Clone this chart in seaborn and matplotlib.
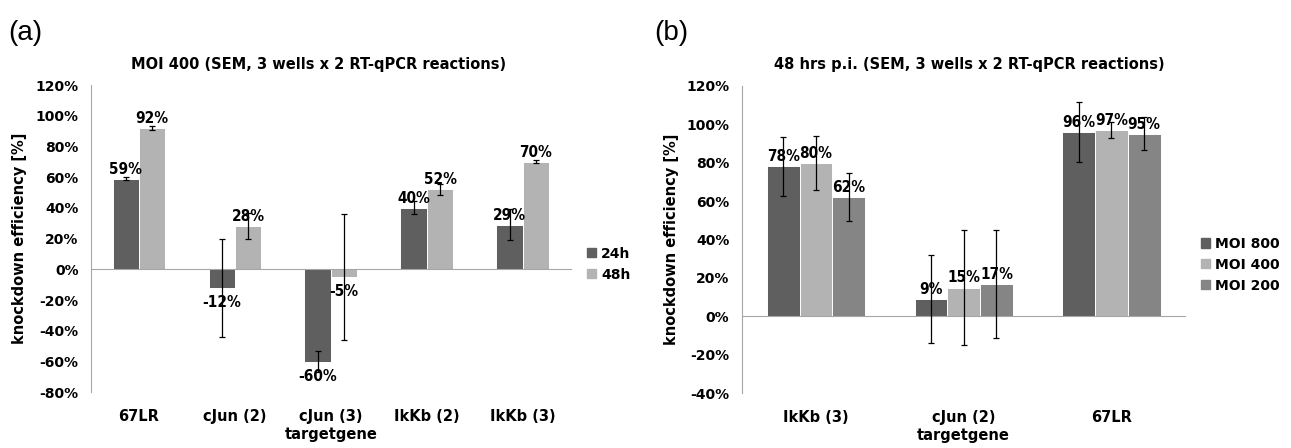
import numpy as np
import pandas as pd
import matplotlib
matplotlib.use("Agg")
import matplotlib.pyplot as plt
from matplotlib import font_manager
from matplotlib.patches import Patch
from matplotlib.ticker import MultipleLocator, PercentFormatter
import seaborn as sns

# ---- panel (a): MOI 400, 24h vs 48h ----
genes_a = ["67LR", "cJun (2)", "cJun (3)", "IkKb (2)", "IkKb (3)"]
times_a = ["24h", "48h"]
eff_24h = [59, -12, -60, 40, 29]
eff_48h = [92, 28, -5, 52, 70]
sem_24h = [1, 32, 7, 4.2, 10]
sem_48h = [1, 8.5, 41, 3.6, 1]

# ---- panel (b): 48 hrs p.i., three MOIs ----
genes_b = ["IkKb (3)", "cJun (2)", "67LR"]
mois_b = ["MOI 800", "MOI 400", "MOI 200"]
eff_moi800 = [78, 9, 96]
eff_moi400 = [80, 15, 97]
eff_moi200 = [62, 17, 95]
sem_moi800 = [15.5, 23, 15.5]
sem_moi400 = [14, 30, 4]
sem_moi200 = [12.4, 28, 8.5]

DARK, LIGHT, MID = "#5f5f5f", "#b3b3b3", "#858585"
GREY = "#a6a6a6"

sns.set_style("white")
plt.rcParams.update({
    "font.family": ["DejaVu Sans"],
    "font.weight": "bold",
    "axes.labelweight": "bold",
    "text.color": "black",
    "axes.labelcolor": "black",
    "xtick.labelcolor": "black",
    "ytick.labelcolor": "black",
    "axes.unicode_minus": False,
})

has_condensed = any(f.name == "DejaVu Sans" and f.stretch == "condensed"
                    for f in font_manager.fontManager.ttflist)
lab_kw = dict(fontstretch="condensed", fontsize=11) if has_condensed else dict(fontsize=10)

W, H = 1291, 448
fig = plt.figure(figsize=(W / 100, H / 100), dpi=100)


def px_axes(l, t, r, b):
    return fig.add_axes([l / W, 1 - b / H, (r - l) / W, (b - t) / H])


def panel(ax, genes, groups, series, errors, colors, width, ylim, ylabel_x):
    df = pd.DataFrame({
        "targetgene": [g for _ in groups for g in genes],
        "group": [grp for grp in groups for _ in genes],
        "eff": [v for s in series for v in s],
    })
    sns.barplot(data=df, x="targetgene", y="eff", hue="group", order=genes,
                hue_order=groups, palette=dict(zip(groups, colors)),
                width=width, errorbar=None, legend=False, saturation=1,
                edgecolor="white", linewidth=0.7, ax=ax)

    for cont, vals, errs in zip(ax.containers, series, errors):
        xs = [b.get_x() + b.get_width() / 2 for b in cont]
        ax.errorbar(xs, vals, yerr=errs, fmt="none", ecolor="black",
                    elinewidth=0.9, capsize=2, capthick=0.9, zorder=4)
        for x, v in zip(xs, vals):
            pos = v >= 0
            ax.annotate(f"{v:.0f}%", (x, v), xytext=(0, 1.5 if pos else -5),
                        textcoords="offset points", ha="center",
                        va="bottom" if pos else "top", fontweight="bold",
                        color="black", zorder=5, **lab_kw)

    n = len(genes)
    ax.set_xlim(-0.5, n - 0.5)
    ax.set_ylim(*ylim)
    ax.yaxis.set_major_locator(MultipleLocator(20))
    ax.yaxis.set_major_formatter(PercentFormatter(decimals=0))
    ax.tick_params(axis="y", length=4, color=GREY, width=1, pad=5, labelsize=10,
                   labelcolor="black")

    for s in ("top", "right"):
        ax.spines[s].set_visible(False)
    ax.spines["left"].set_color(GREY)
    ax.spines["bottom"].set_color(GREY)
    ax.spines["bottom"].set_position(("data", 0))
    ax.set_xticks(np.arange(-0.5, n), minor=True)
    ax.tick_params(axis="x", which="minor", length=4, color=GREY, width=1)
    ax.tick_params(axis="x", which="major", length=0, labelbottom=False)
    ax.set_xlabel("")

    sec = ax.secondary_xaxis("bottom")
    sec.set_xticks(range(n), labels=genes)
    sec.tick_params(length=0, pad=12, labelsize=10.5, labelcolor="black")
    sec.spines["bottom"].set_visible(False)
    sec.set_xlabel("targetgene", fontsize=10.5, labelpad=2, color="black")

    ax.set_ylabel("knockdown efficiency [%]", fontsize=10.5, color="black")
    ax.yaxis.set_label_coords(ylabel_x, 0.5)


ax_a = px_axes(91, 85, 570.7, 392.3)
panel(ax_a, genes_a, times_a, [eff_24h, eff_48h], [sem_24h, sem_48h],
      [DARK, LIGHT], 0.55, (-80, 120), -0.134)

ax_b = px_axes(742, 85.7, 1185.3, 393.3)
panel(ax_b, genes_b, mois_b, [eff_moi800, eff_moi400, eff_moi200],
      [sem_moi800, sem_moi400, sem_moi200], [DARK, LIGHT, MID], 0.665,
      (-40, 120), -0.141)

# titles and panel letters
fig.text(318.8 / W, 1 - 64 / H, "MOI 400 (SEM, 3 wells x 2 RT-qPCR reactions)",
         ha="center", va="center", fontsize=10.5, fontweight="bold")
fig.text(969 / W, 1 - 64 / H, "48 hrs p.i. (SEM, 3 wells x 2 RT-qPCR reactions)",
         ha="center", va="center", fontsize=10.5, fontweight="bold")
fig.text(8 / W, 1 - 33.5 / H, "(a)", ha="left", va="center", fontsize=20,
         fontweight="normal", family=["Liberation Sans", "DejaVu Sans"])
fig.text(654 / W, 1 - 33.5 / H, "(b)", ha="left", va="center", fontsize=20,
         fontweight="normal", family=["Liberation Sans", "DejaVu Sans"])

# legends
leg_kw = dict(loc="center left", frameon=False, borderpad=0, borderaxespad=0,
              handlelength=0.65, handleheight=0.65, handletextpad=0.35,
              labelspacing=0.5, labelcolor="black",
              prop=dict(weight="bold", size=10))
fig.legend([Patch(color=c) for c in (DARK, LIGHT)], times_a,
           bbox_to_anchor=(587 / W, 1 - 264.2 / H), **leg_kw)
fig.legend([Patch(color=c) for c in (DARK, LIGHT, MID)], mois_b,
           bbox_to_anchor=(1201 / W, 1 - 264.7 / H), **leg_kw)

fig.savefig("out.png", dpi=100, facecolor="white")
